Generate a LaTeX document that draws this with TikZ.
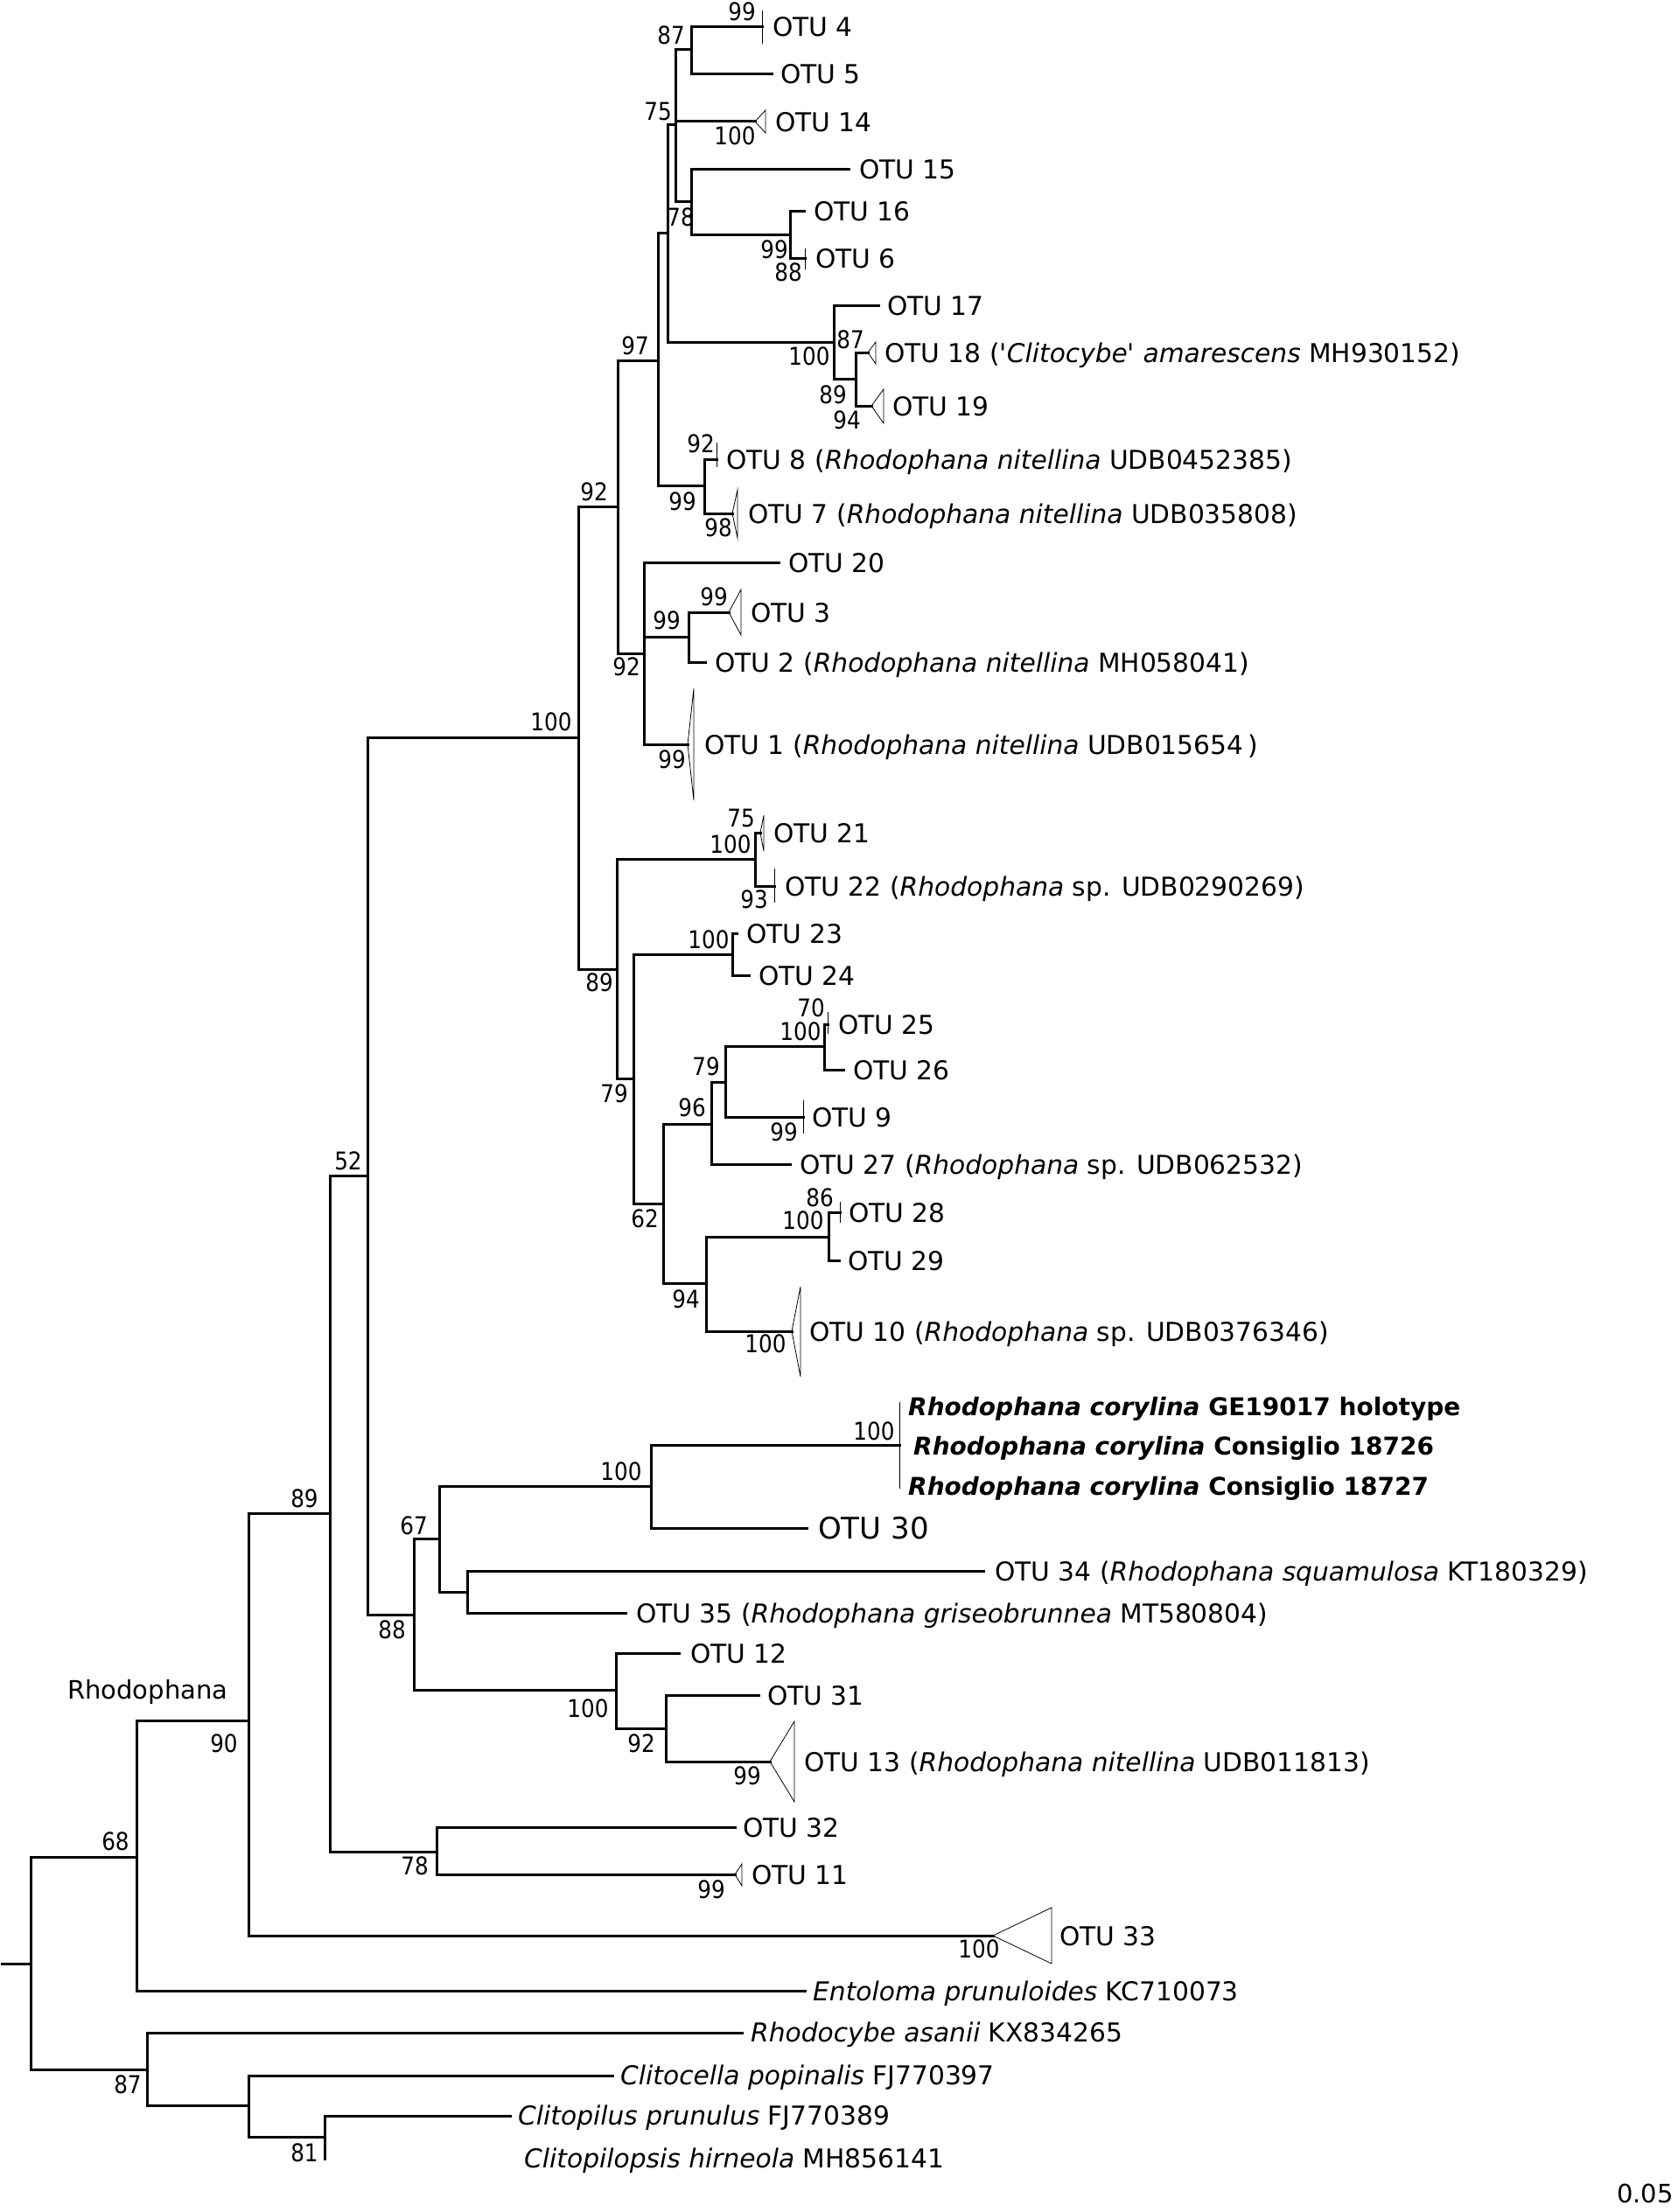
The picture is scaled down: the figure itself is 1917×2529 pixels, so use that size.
\documentclass[tikz,border=0pt]{standalone}
\usepackage{fontspec}
\usepackage{graphicx}
\setmainfont{DejaVu Sans}
\newcommand\bsnum[1]{\scalebox{0.88}[1]{#1}}
\begin{document}
\begin{tikzpicture}[x=1pt,y=1pt,
  br/.style={line width=3pt, line cap=rect},
  clp/.style={line width=0.8pt, line join=miter},
  otu/.style={anchor=base west, inner sep=0pt, yshift=-11pt, font=\fontsize{29.7}{36}\selectfont},
  cory/.style={anchor=base west, inner sep=0pt, yshift=-10.5pt, font=\fontsize{28}{34}\selectfont\bfseries},
  bs/.style={inner sep=0pt, font=\fontsize{28}{30}\selectfont}]
\useasboundingbox (0,0) rectangle (1917,-2529);
% ---- coordinates of tree nodes ----
\coordinate (r0) at (2,-2245);
\coordinate (R) at (35,-2245);
\coordinate (n68) at (156,-2123);
\coordinate (n87b) at (168,-2366);
\coordinate (n90) at (284,-1967);
\coordinate (tEnt) at (920,-2276);
\coordinate (n89) at (377,-1730);
\coordinate (t33) at (1135,-2213);
\coordinate (n52) at (420,-1344);
\coordinate (n78b) at (499,-2117);
\coordinate (n100a) at (661,-843);
\coordinate (n88) at (473,-1846);
\coordinate (n92a) at (706,-579);
\coordinate (n89a) at (705,-1108);
\coordinate (n97) at (752,-412);
\coordinate (n92b) at (736,-747);
\coordinate (n763) at (763,-266);
\coordinate (n99h) at (805,-555);
\coordinate (n75) at (772,-143);
\coordinate (n100q) at (953,-391);
\coordinate (n87) at (790,-57);
\coordinate (t14) at (863,-139);
\coordinate (n78) at (790,-230);
\coordinate (t4) at (871,-31);
\coordinate (t5) at (882,-85);
\coordinate (t15) at (970,-193);
\coordinate (n99p) at (903,-268);
\coordinate (t16) at (919,-241);
\coordinate (t6) at (920,-295);
\coordinate (t17) at (1004,-349);
\coordinate (n89q) at (978,-433);
\coordinate (t18) at (992,-403);
\coordinate (t19) at (996,-464);
\coordinate (t8) at (819,-525);
\coordinate (t7) at (837,-587);
\coordinate (t20) at (890,-643);
\coordinate (n99r) at (787,-728);
\coordinate (t1) at (786,-851);
\coordinate (t3) at (833,-700);
\coordinate (t2) at (806,-757);
\coordinate (n100s) at (863,-982);
\coordinate (n79a) at (724,-1233);
\coordinate (t21) at (869,-952);
\coordinate (t22) at (885,-1013);
\coordinate (n100t) at (837,-1091);
\coordinate (n62) at (758,-1376);
\coordinate (t23) at (842,-1067);
\coordinate (t24) at (856,-1115);
\coordinate (n96) at (813,-1285);
\coordinate (n94) at (807,-1467);
\coordinate (n79b) at (829,-1237);
\coordinate (t27) at (903,-1331);
\coordinate (n100u) at (942,-1196);
\coordinate (t9) at (918,-1277);
\coordinate (t25) at (946,-1171);
\coordinate (t26) at (964,-1223);
\coordinate (n100v) at (947,-1414);
\coordinate (t10) at (905,-1522);
\coordinate (t28) at (960,-1386);
\coordinate (t29) at (959,-1441);
\coordinate (n67) at (502,-1759);
\coordinate (n100w) at (704,-1932);
\coordinate (n100c) at (744,-1699);
\coordinate (n34) at (534,-1820);
\coordinate (ncor) at (1028,-1652);
\coordinate (t30) at (922,-1747);
\coordinate (t34) at (1124,-1796);
\coordinate (t35) at (715,-1844);
\coordinate (t12) at (776,-1890);
\coordinate (n92c) at (761,-1976);
\coordinate (t31) at (867,-1938);
\coordinate (t13) at (880,-2014);
\coordinate (t32) at (840,-2089);
\coordinate (t11) at (840,-2143);
\coordinate (tRa) at (848,-2324);
\coordinate (ncl) at (284,-2407);
\coordinate (tCc) at (700,-2373);
\coordinate (n81) at (371,-2443);
\coordinate (tCp) at (583,-2419);
\coordinate (tCh) at (371,-2468);
% ---- branches ----
\draw[br] (r0) -- (R);
\draw[br] (R) |- (n68); \draw[br] (R) |- (n87b);
\draw[br] (n68) |- (n90); \draw[br] (n68) |- (tEnt);
\draw[br] (n90) |- (n89); \draw[br] (n90) |- (t33);
\draw[br] (n89) |- (n52); \draw[br] (n89) |- (n78b);
\draw[br] (n52) |- (n100a); \draw[br] (n52) |- (n88);
\draw[br] (n100a) |- (n92a); \draw[br] (n100a) |- (n89a);
\draw[br] (n92a) |- (n97); \draw[br] (n92a) |- (n92b);
\draw[br] (n97) |- (n763); \draw[br] (n97) |- (n99h);
\draw[br] (n763) |- (n75); \draw[br] (n763) |- (n100q);
\draw[br] (n75) |- (n87); \draw[br] (n75) |- (t14); \draw[br] (n75) |- (n78);
\draw[br] (n87) |- (t4); \draw[br] (n87) |- (t5);
\draw[br] (n78) |- (t15); \draw[br] (n78) |- (n99p);
\draw[br] (n99p) |- (t16); \draw[br] (n99p) |- (t6);
\draw[br] (n100q) |- (t17); \draw[br] (n100q) |- (n89q);
\draw[br] (n89q) |- (t18); \draw[br] (n89q) |- (t19);
\draw[br] (n99h) |- (t8); \draw[br] (n99h) |- (t7);
\draw[br] (n92b) |- (t20); \draw[br] (n92b) |- (n99r); \draw[br] (n92b) |- (t1);
\draw[br] (n99r) |- (t3); \draw[br] (n99r) |- (t2);
\draw[br] (n89a) |- (n100s); \draw[br] (n89a) |- (n79a);
\draw[br] (n100s) |- (t21); \draw[br] (n100s) |- (t22);
\draw[br] (n79a) |- (n100t); \draw[br] (n79a) |- (n62);
\draw[br] (n100t) |- (t23); \draw[br] (n100t) |- (t24);
\draw[br] (n62) |- (n96); \draw[br] (n62) |- (n94);
\draw[br] (n96) |- (n79b); \draw[br] (n96) |- (t27);
\draw[br] (n79b) |- (n100u); \draw[br] (n79b) |- (t9);
\draw[br] (n100u) |- (t25); \draw[br] (n100u) |- (t26);
\draw[br] (n94) |- (n100v); \draw[br] (n94) |- (t10);
\draw[br] (n100v) |- (t28); \draw[br] (n100v) |- (t29);
\draw[br] (n88) |- (n67); \draw[br] (n88) |- (n100w);
\draw[br] (n67) |- (n100c); \draw[br] (n67) |- (n34);
\draw[br] (n100c) |- (ncor); \draw[br] (n100c) |- (t30);
\draw[br] (n34) |- (t34); \draw[br] (n34) |- (t35);
\draw[br] (n100w) |- (t12); \draw[br] (n100w) |- (n92c);
\draw[br] (n92c) |- (t31); \draw[br] (n92c) |- (t13);
\draw[br] (n78b) |- (t32); \draw[br] (n78b) |- (t11);
\draw[br] (n87b) |- (tRa); \draw[br] (n87b) |- (ncl);
\draw[br] (ncl) |- (tCc); \draw[br] (ncl) |- (n81);
\draw[br] (n81) |- (tCp); \draw[br] (n81) |- (tCh);
% ---- collapsed clades ----
\draw[clp] (t4) ++(0,19) -- ++(0,-38);
\draw[clp] (t14) -- ++(12,13) -- ++(0,-26) -- cycle;
\draw[clp] (t6) ++(0,11) -- ++(0,-24);
\draw[clp] (t18) -- ++(9,12) -- ++(0,-25) -- cycle;
\draw[clp] (t19) -- ++(14,19) -- ++(0,-39) -- cycle;
\draw[clp] (t8) ++(0,19) -- ++(0,-28);
\draw[clp] (t7) -- ++(6,27) -- ++(0,-55) -- cycle;
\draw[clp] (t3) -- ++(14,26) -- ++(0,-52) -- cycle;
\draw[clp] (t1) -- ++(7,64) -- ++(0,-128) -- cycle;
\draw[clp] (t21) -- ++(4,20) -- ++(0,-41) -- cycle;
\draw[clp] (t22) ++(0,20) -- ++(0,-39);
\draw[clp] (t25) ++(0,14) -- ++(0,-25);
\draw[clp] (t9) ++(0,19) -- ++(0,-38);
\draw[clp] (t28) ++(0,12) -- ++(0,-24);
\draw[clp] (t10) -- ++(10,51) -- ++(0,-103) -- cycle;
\draw[clp] (t13) -- ++(28,46) -- ++(0,-92) -- cycle;
\draw[clp] (t11) -- ++(8,12) -- ++(0,-25) -- cycle;
\draw[clp] (t33) -- ++(67,32) -- ++(0,-64) -- cycle;
\draw[line width=1pt] (ncor) ++(0,49) -- ++(0,-99);
% ---- tip labels ----
\node[otu] (l4) at (883,-31) {OTU 4};
\node[otu] (l5) at (892,-85) {OTU 5};
\node[otu] (l14) at (886,-139) {OTU 14};
\node[otu] (l15) at (982,-193) {OTU 15};
\node[otu] (l16) at (930,-241) {OTU 16};
\node[otu] (l6) at (932,-295) {OTU 6};
\node[otu] (l17) at (1014,-349) {OTU 17};
\node[otu] (l18) at (1011,-403) {OTU 18 (\textquotesingle\textit{Clitocybe}\textquotesingle\ \textit{amarescens} MH930152)};
\node[otu] (l19) at (1020,-464) {OTU 19};
\node[otu] (l8) at (830,-525) {OTU 8 (\textit{Rhodophana nitellina} UDB0452385)};
\node[otu] (l7) at (855,-587) {OTU 7 (\textit{Rhodophana nitellina} UDB035808)};
\node[otu] (l20) at (901,-643) {OTU 20};
\node[otu] (l3) at (858,-700) {OTU 3};
\node[otu] (l2) at (817,-757) {OTU 2 (\textit{Rhodophana nitellina} MH058041)};
\node[otu] (l1) at (805,-851) {OTU 1 (\textit{Rhodophana nitellina} UDB015654\,)};
\node[otu] (l21) at (884,-952) {OTU 21};
\node[otu] (l22) at (897,-1013) {OTU 22 (\textit{Rhodophana} sp. UDB0290269)};
\node[otu] (l23) at (853,-1067) {OTU 23};
\node[otu] (l24) at (867,-1115) {OTU 24};
\node[otu] (l25) at (958,-1171) {OTU 25};
\node[otu] (l26) at (975,-1223) {OTU 26};
\node[otu] (l9) at (928,-1277) {OTU 9};
\node[otu] (l27) at (914,-1331) {OTU 27 (\textit{Rhodophana} sp. UDB062532)};
\node[otu] (l28) at (970,-1386) {OTU 28};
\node[otu] (l29) at (969,-1441) {OTU 29};
\node[otu] (l10) at (925,-1522) {OTU 10 (\textit{Rhodophana} sp. UDB0376346)};
\node[cory] (lc1) at (1038,-1608) {\textit{Rhodophana corylina} GE19017 holotype};
\node[cory] (lc2) at (1044,-1653) {\textit{Rhodophana corylina} Consiglio 18726};
\node[cory] (lc3) at (1038,-1699) {\textit{Rhodophana corylina} Consiglio 18727};
\node[otu, yshift=-1.5pt, font=\fontsize{34}{40}\selectfont] (l30) at (935,-1747) {OTU 30};
\node[otu] (l34) at (1137,-1796) {OTU 34 (\textit{Rhodophana squamulosa} KT180329)};
\node[otu] (l35) at (727,-1844) {OTU 35 (\textit{Rhodophana griseobrunnea} MT580804)};
\node[otu] (l12) at (789,-1890) {OTU 12};
\node[otu] (l31) at (877,-1938) {OTU 31};
\node[otu] (l13) at (919,-2014) {OTU 13 (\textit{Rhodophana nitellina} UDB011813)};
\node[otu] (l32) at (849,-2089) {OTU 32};
\node[otu] (l11) at (859,-2143) {OTU 11};
\node[otu] (l33) at (1211,-2213) {OTU 33};
\node[otu] (lEnt) at (929,-2276) {\textit{Entoloma prunuloides} KC710073};
\node[otu] (lRa) at (858,-2323) {\textit{Rhodocybe asanii} KX834265};
\node[otu] (lCc) at (709,-2372) {\textit{Clitocella popinalis} FJ770397};
\node[otu] (lCp) at (592,-2418) {\textit{Clitopilus prunulus} FJ770389};
\node[otu] (lCh) at (599,-2467) {\textit{Clitopilopsis hirneola} MH856141};
\node[anchor=base west, inner sep=0pt, font=\fontsize{29}{34}\selectfont] (clade) at (77,-1942) {Rhodophana};
\node[anchor=base west, inner sep=0pt, font=\fontsize{29}{34}\selectfont] (scale) at (1848,-2518) {0.05};
% ---- support values ----
\node[bs] (s1) at (848,-13) {\bsnum{99}};
\node[bs] (s2) at (767,-40) {\bsnum{87}};
\node[bs] (s3) at (752,-127) {\bsnum{75}};
\node[bs] (s4) at (840,-155) {\bsnum{100}};
\node[bs] (s5) at (778,-248) {\bsnum{78}};
\node[bs] (s6) at (885,-285) {\bsnum{99}};
\node[bs] (s7) at (901,-311) {\bsnum{88}};
\node[bs] (s8) at (925,-407) {\bsnum{100}};
\node[bs] (s9) at (972,-388) {\bsnum{87}};
\node[bs] (s10) at (952,-451) {\bsnum{89}};
\node[bs] (s11) at (968,-480) {\bsnum{94}};
\node[bs] (s12) at (726,-395) {\bsnum{97}};
\node[bs] (s13) at (801,-507) {\bsnum{92}};
\node[bs] (s14) at (780,-573) {\bsnum{99}};
\node[bs] (s15) at (821,-603) {\bsnum{98}};
\node[bs] (s16) at (679,-562) {\bsnum{92}};
\node[bs] (s17) at (716,-762) {\bsnum{92}};
\node[bs] (s18) at (762,-709) {\bsnum{99}};
\node[bs] (s19) at (816,-682) {\bsnum{99}};
\node[bs] (s20) at (768,-868) {\bsnum{99}};
\node[bs] (s21) at (630,-825) {\bsnum{100}};
\node[bs] (s22) at (685,-1123) {\bsnum{89}};
\node[bs] (s23) at (835,-965) {\bsnum{100}};
\node[bs] (s24) at (847,-935) {\bsnum{75}};
\node[bs] (s25) at (862,-1028) {\bsnum{93}};
\node[bs] (s26) at (702,-1250) {\bsnum{79}};
\node[bs] (s27) at (810,-1074) {\bsnum{100}};
\node[bs] (s28) at (737,-1393) {\bsnum{62}};
\node[bs] (s29) at (791,-1266) {\bsnum{96}};
\node[bs] (s30) at (807,-1219) {\bsnum{79}};
\node[bs] (s31) at (915,-1179) {\bsnum{100}};
\node[bs] (s32) at (927,-1152) {\bsnum{70}};
\node[bs] (s33) at (896,-1294) {\bsnum{99}};
\node[bs] (s34) at (784,-1485) {\bsnum{94}};
\node[bs] (s35) at (918,-1395) {\bsnum{100}};
\node[bs] (s36) at (937,-1369) {\bsnum{86}};
\node[bs] (s37) at (875,-1536) {\bsnum{100}};
\node[bs] (s38) at (398,-1327) {\bsnum{52}};
\node[bs] (s39) at (348,-1713) {\bsnum{89}};
\node[bs] (s40) at (710,-1682) {\bsnum{100}};
\node[bs] (s41) at (473,-1744) {\bsnum{67}};
\node[bs] (s42) at (448,-1863) {\bsnum{88}};
\node[bs] (s43) at (999,-1636) {\bsnum{100}};
\node[bs] (s44) at (672,-1953) {\bsnum{100}};
\node[bs] (s45) at (733,-1993) {\bsnum{92}};
\node[bs] (s46) at (854,-2030) {\bsnum{99}};
\node[bs] (s47) at (474,-2133) {\bsnum{78}};
\node[bs] (s48) at (813,-2160) {\bsnum{99}};
\node[bs] (s49) at (1119,-2228) {\bsnum{100}};
\node[bs] (s50) at (256,-1993) {\bsnum{90}};
\node[bs] (s51) at (132,-2105) {\bsnum{68}};
\node[bs] (s52) at (146,-2383) {\bsnum{87}};
\node[bs] (s53) at (348,-2461) {\bsnum{81}};
\end{tikzpicture}
\end{document}
